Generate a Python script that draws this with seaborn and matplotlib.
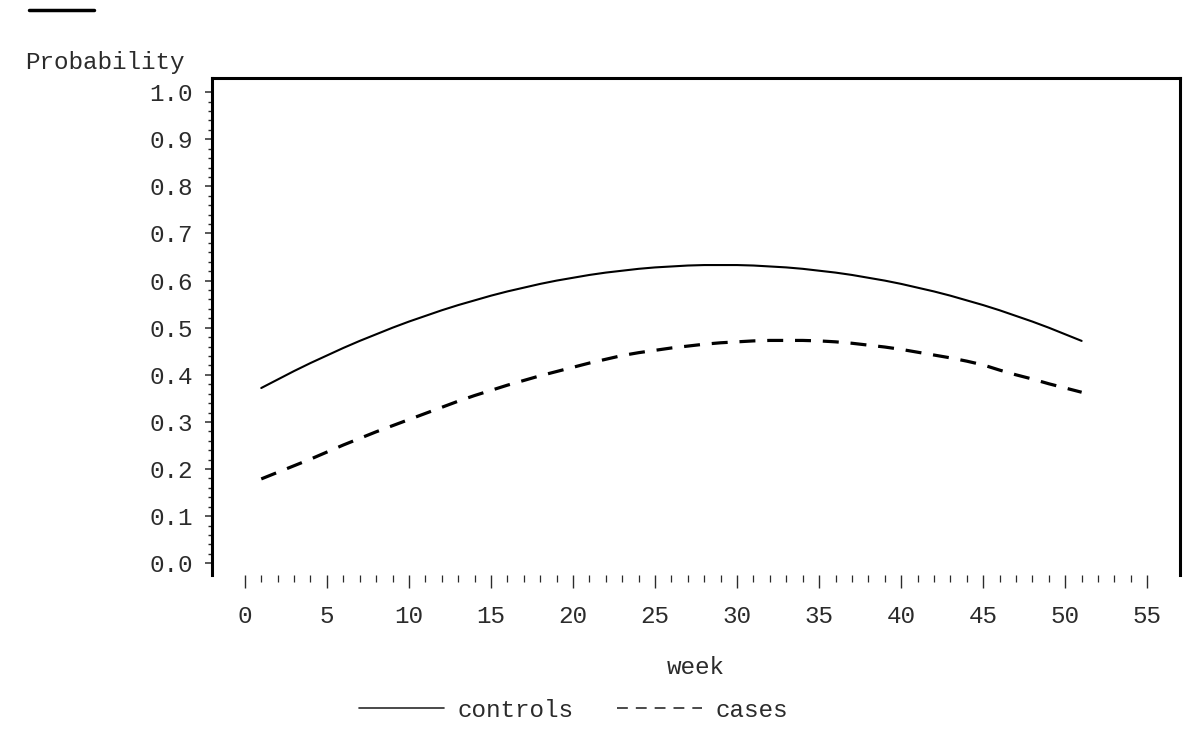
import numpy as np
import pandas as pd
import matplotlib.pyplot as plt
import seaborn as sns
from matplotlib.lines import Line2D
from matplotlib.ticker import FixedLocator, FormatStrFormatter

# ---------------------------------------------------------------
# data (probability per week)
# ---------------------------------------------------------------
weeks = list(range(1, 52))
controls = [0.372, 0.390, 0.408, 0.425, 0.441, 0.457, 0.472, 0.486, 0.500, 0.513,
            0.525, 0.537, 0.548, 0.558, 0.568, 0.577, 0.585, 0.593, 0.600, 0.606,
            0.612, 0.617, 0.621, 0.625, 0.628, 0.630, 0.632, 0.633, 0.633, 0.633,
            0.632, 0.630, 0.628, 0.625, 0.621, 0.617, 0.612, 0.606, 0.600, 0.593,
            0.585, 0.577, 0.568, 0.558, 0.548, 0.537, 0.525, 0.513, 0.500, 0.486,
            0.472]
cases = [0.179, 0.193, 0.207, 0.221, 0.236, 0.251, 0.265, 0.279, 0.292, 0.305,
         0.318, 0.331, 0.344, 0.356, 0.367, 0.378, 0.388, 0.398, 0.407, 0.416,
         0.425, 0.433, 0.441, 0.447, 0.452, 0.457, 0.461, 0.465, 0.468, 0.470,
         0.472, 0.473, 0.473, 0.473, 0.472, 0.470, 0.467, 0.463, 0.459, 0.454,
         0.448, 0.442, 0.436, 0.429, 0.421, 0.410, 0.400, 0.391, 0.381, 0.372,
         0.363]

x_major = list(range(0, 56, 5))
x_minor = list(range(0, 56))
y_major = [round(v * 0.1, 1) for v in range(0, 11)]
y_minor = [round(v * 0.02, 2) for v in range(0, 51)]

df = pd.DataFrame({"week": weeks, "controls": controls, "cases": cases})

# ---------------------------------------------------------------
# style
# ---------------------------------------------------------------
sns.set_theme(style="white")
fs = 17.5
plt.rcParams["font.family"] = ["Liberation Mono", "DejaVu Sans Mono"]
plt.rcParams["font.size"] = fs
ink = "#2b2b2b"

fig = plt.figure(figsize=(12, 7.3), dpi=100)
ax = fig.add_axes([0.1767, 0.2123, 0.8067, 0.6808])

sns.lineplot(data=df, x="week", y="controls", color="black", lw=1.5, ax=ax)
sns.lineplot(data=df, x="week", y="cases", color="black", lw=2.3,
             linestyle=(0, (5, 3.7)), ax=ax)

ax.set_xlim(-2, 57)
ax.set_ylim(-0.025, 1.03)
ax.xaxis.set_major_locator(FixedLocator(x_major))
ax.xaxis.set_minor_locator(FixedLocator(x_minor))
ax.yaxis.set_major_locator(FixedLocator(y_major))
ax.yaxis.set_minor_locator(FixedLocator(y_minor))
ax.yaxis.set_major_formatter(FormatStrFormatter("%.1f"))

for s in ["left", "top", "right"]:
    ax.spines[s].set_linewidth(2.2)
    ax.spines[s].set_color("black")
ax.spines["bottom"].set_visible(False)

ax.tick_params(axis="y", which="major", length=5, width=1.1, pad=9,
               colors=ink, left=True, direction="out", labelsize=fs)
ax.tick_params(axis="y", which="minor", length=3, width=1.0, left=True,
               colors=ink, direction="out")
ax.tick_params(axis="x", which="major", length=9.5, width=1.0, pad=12,
               colors=ink, bottom=True, direction="out", labelsize=fs)
ax.tick_params(axis="x", which="minor", length=5, width=0.9, bottom=True,
               colors=ink, direction="out")

ax.set_ylabel("Probability", rotation=0, ha="left", va="center",
              color=ink, fontsize=fs)
ax.yaxis.set_label_coords(-0.193, 1.032)
ax.set_xlabel("week", color=ink, fontsize=fs)
ax.xaxis.label.set_va("center")
ax.xaxis.set_label_coords(0.5, -0.187)

# legend at the bottom
h1 = Line2D([], [], color=ink, lw=1.2)
h2 = Line2D([], [], color=ink, lw=1.2, linestyle=(0, (6.5, 4.8)))
fig.legend(handles=[h1, h2], labels=["controls", "cases"], loc="center",
           bbox_to_anchor=(0.478, 0.027), ncol=2, frameon=False,
           handlelength=3.5, handletextpad=0.55, columnspacing=1.8,
           fontsize=fs, labelcolor=ink)

# short bar in the top-left corner
fig.add_artist(Line2D([29 / 1200, 94 / 1200], [1 - 10 / 730, 1 - 10 / 730],
                      color="black", lw=2.5, transform=fig.transFigure))

fig.savefig("out.png", dpi=100)
